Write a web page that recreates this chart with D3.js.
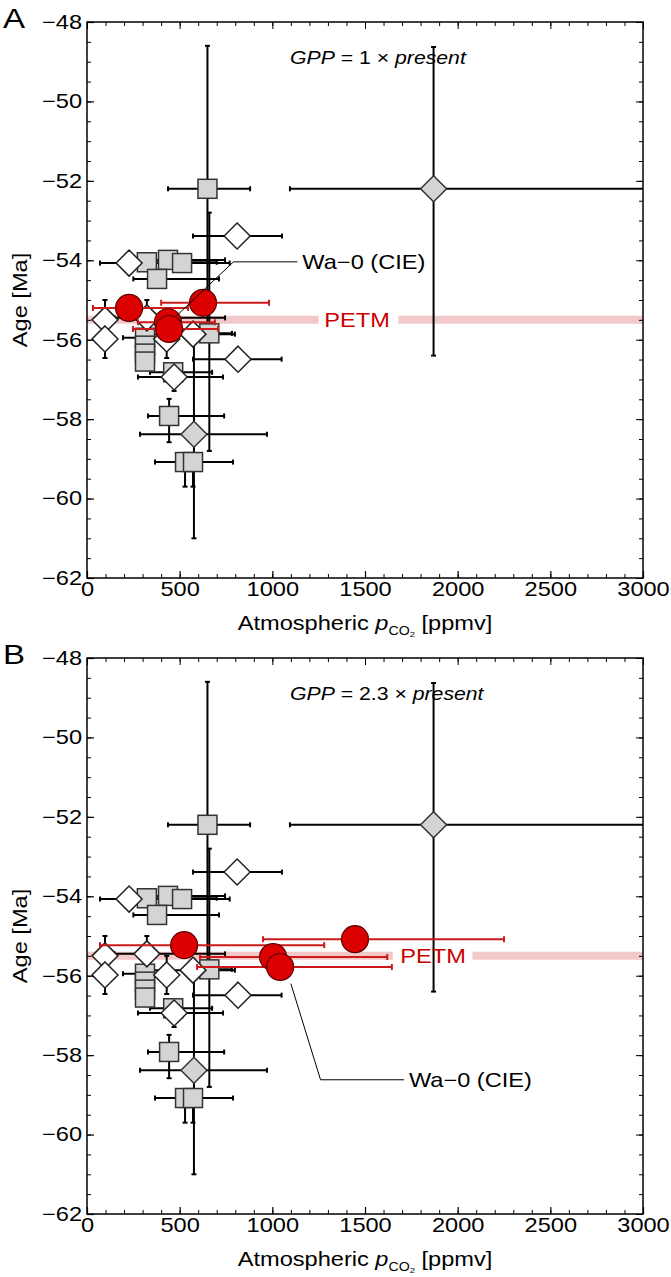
<!DOCTYPE html>
<html><head><meta charset="utf-8">
<script src="https://cdn.jsdelivr.net/npm/d3@7"></script>
<style>body{margin:0;background:#fff} svg{display:block} text{font-family:"Liberation Sans",Arial,Helvetica,sans-serif}</style>
</head><body><svg id="c" width="671" height="1277"></svg>
<script>
const xTickValues = [0, 500, 1000, 1500, 2000, 2500, 3000];
const yTickValues = [-62, -60, -58, -56, -54, -52, -50, -48];
// [pCO2, age, pCO2 low, pCO2 high, age older, age younger]
const graySquares = [
  [650, -52.2, 437, 880, -55.8, -48.6],
  [323, -54.05, 250, 700, null, null],
  [437, -53.99, 300, 745, null, null],
  [513, -54.07, 400, 770, null, null],
  [378, -54.47, 250, 712, null, null],
  [660, -55.84, 540, 782, -58.8, -52.8],
  [313, -55.95, 194, 480, null, null],
  [313, -56.15, null, null, null, null],
  [313, -56.35, null, null, null, null],
  [313, -56.55, null, null, null, null],
  [465, -56.82, 340, 675, null, null],
  [443, -57.92, 329, 740, -58.58, -57.49],
  [529, -59.08, 367, 788, -59.7, null],
  [572, -59.08, null, null, -59.7, null]
];
const whiteDiamonds = [
  [810, -53.39, 572, 1052, null, null],
  [227, -54.07, 70, 420, null, null],
  [97, -55.5, null, null, -56.0, -55.0],
  [323, -55.45, 150, 745, -55.95, -55.0],
  [97, -55.98, null, null, -56.46, -55.5],
  [430, -55.98, null, null, -56.46, -55.5],
  [572, -55.86, 350, 798, null, null],
  [815, -56.49, 572, 1050, null, null],
  [470, -56.94, 275, 734, -57.29, -56.66]
];
const grayDiamonds = [
  [1870, -52.2, 1095, 3200, -56.4, -48.63],
  [577, -58.38, 286, 971, -61.0, -55.8]
];
// [pCO2, age, pCO2 low, pCO2 high]
const redA = [[227, -55.2, 32, 545], [626, -55.07, 400, 982], [437, -55.56, 275, 690], [443, -55.73, 248, 707]];
const redB = [[524, -55.23, 70, 1280], [1446, -55.08, 950, 2250], [1004, -55.53, 610, 1620], [1042, -55.78, 594, 1645]];
const panelLetters = ["A", "B"];
const gppLabels = ["1", "2.3"];
const petmAge = -55.5;
const petmLabelX = [1457, 1867];
const petmGap = [[1250, 1680], [1650, 2080]];
// leader line for Wa-0 label: [pCO2, age] points, text anchored at last point
const leaderA = [[478, -55.42], [790, -54.04], [1135, -54.04]];
const leaderB = [[1100, -56.2], [1260, -58.62], [1710, -58.62]];

const svg = d3.select("#c");
const SX = 1.18;
const x = d3.scaleLinear([0, 3000], [87, 643]);
const y = d3.scaleLinear([-62, -48], [578, 22]);

function stext(g, px, py, str, size, anchor, color) {
  return g.append("text").attr("transform", `translate(${px},${py}) scale(${SX},1)`)
    .attr("font-size", size).attr("text-anchor", anchor || "start").attr("fill", color || "#000").text(str);
}

function drawPanel(i, red, leader) {
  const g = svg.append("g").attr("transform", `translate(0,${i * 636})`);
  const clipId = "clip" + i;
  g.append("clipPath").attr("id", clipId).append("rect")
    .attr("x", x(0)).attr("y", y(-48)).attr("width", x(3000) - x(0)).attr("height", y(-62) - y(-48));
  const plot = g.append("g").attr("clip-path", `url(#${clipId})`);

  const band = [[0, petmGap[i][0]], [petmGap[i][1], 3000]];
  plot.selectAll(".band").data(band).join("line")
    .attr("x1", d => x(d[0])).attr("x2", d => x(d[1]))
    .attr("y1", y(petmAge)).attr("y2", y(petmAge))
    .attr("stroke", "#f3c8c8").attr("stroke-width", 8);

  const allBlack = graySquares.concat(whiteDiamonds, grayDiamonds);
  const cap = 2.5;
  allBlack.filter(d => d[2] != null).forEach(d => {
    const yy = y(d[1]);
    plot.append("line").attr("x1", x(d[2])).attr("x2", x(d[3])).attr("y1", yy).attr("y2", yy)
      .attr("stroke", "#000").attr("stroke-width", 2);
    [d[2], d[3]].forEach(v => plot.append("line").attr("x1", x(v)).attr("x2", x(v))
      .attr("y1", yy - cap).attr("y2", yy + cap).attr("stroke", "#000").attr("stroke-width", 2));
  });
  allBlack.filter(d => d[4] != null || d[5] != null).forEach(d => {
    const xx = x(d[0]);
    const lo = d[4] != null ? d[4] : d[1], hi = d[5] != null ? d[5] : d[1];
    plot.append("line").attr("x1", xx).attr("x2", xx).attr("y1", y(lo)).attr("y2", y(hi))
      .attr("stroke", "#000").attr("stroke-width", 2);
    [d[4], d[5]].filter(v => v != null).forEach(v => plot.append("line")
      .attr("x1", xx - cap).attr("x2", xx + cap).attr("y1", y(v)).attr("y2", y(v))
      .attr("stroke", "#000").attr("stroke-width", 2));
  });
  const sq = 9.5, dm = 13;
  plot.selectAll(".sq").data(graySquares).join("rect")
    .attr("x", d => x(d[0]) - sq).attr("y", d => y(d[1]) - sq).attr("width", 2 * sq).attr("height", 2 * sq)
    .attr("fill", "#d4d4d4").attr("stroke", "#333").attr("stroke-width", 1.5);
  const diamondPath = d => { const cx = x(d[0]), cy = y(d[1]); return `M${cx},${cy - dm}L${cx + dm},${cy}L${cx},${cy + dm}L${cx - dm},${cy}Z`; };
  plot.selectAll(".wd").data(whiteDiamonds).join("path").attr("d", diamondPath)
    .attr("fill", "#fff").attr("stroke", "#222").attr("stroke-width", 1.5);
  plot.selectAll(".gd").data(grayDiamonds).join("path").attr("d", diamondPath)
    .attr("fill", "#d4d4d4").attr("stroke", "#333").attr("stroke-width", 1.5);

  red.forEach(d => {
    const yy = y(d[1]);
    plot.append("line").attr("x1", x(d[2])).attr("x2", x(d[3])).attr("y1", yy).attr("y2", yy)
      .attr("stroke", "#cc1a1a").attr("stroke-width", 2);
    [d[2], d[3]].forEach(v => plot.append("line").attr("x1", x(v)).attr("x2", x(v))
      .attr("y1", yy - 3).attr("y2", yy + 3).attr("stroke", "#cc1a1a").attr("stroke-width", 2));
  });
  plot.selectAll(".rc").data(red).join("circle")
    .attr("cx", d => x(d[0])).attr("cy", d => y(d[1])).attr("r", 13.5)
    .attr("fill", "#dd0000").attr("stroke", "#5a0000").attr("stroke-width", 1.2);

  g.append("path").attr("d", d3.line().x(d => x(d[0])).y(d => y(d[1]))(leader))
    .attr("fill", "none").attr("stroke", "#000").attr("stroke-width", 1);
  const last = leader[leader.length - 1];
  stext(g, x(last[0]) + 5, y(last[1]) + 7, "Wa\u22120 (CIE)", 20, "start");

  stext(g, x(petmLabelX[i]), y(petmAge) + 7, "PETM", 20, "middle", "#cc0000");

  const t = g.append("text").attr("transform", `translate(290,64) scale(${SX},1)`).attr("font-size", 18);
  t.append("tspan").attr("font-style", "italic").text("GPP");
  t.append("tspan").text(" = " + gppLabels[i] + " \u00d7 ");
  t.append("tspan").attr("font-style", "italic").text("present");

  g.append("rect").attr("x", x(0)).attr("y", y(-48)).attr("width", x(3000) - x(0)).attr("height", y(-62) - y(-48))
    .attr("fill", "none").attr("stroke", "#000").attr("stroke-width", 1.5);

  const xMinor = d3.range(0, 3001, 100), yMinor = d3.range(-62, -47.9, 0.5);
  const strip = s => s.select(".domain").remove();
  g.append("g").attr("transform", `translate(0,${y(-62)})`).call(d3.axisBottom(x).tickValues(xMinor).tickSize(-4).tickFormat("")).call(strip);
  g.append("g").attr("transform", `translate(0,${y(-48)})`).call(d3.axisTop(x).tickValues(xMinor).tickSize(-4).tickFormat("")).call(strip);
  g.append("g").attr("transform", `translate(0,${y(-48)})`).call(d3.axisTop(x).tickValues(xTickValues).tickSize(-7).tickFormat("")).call(strip);
  g.append("g").attr("transform", `translate(${x(0)},0)`).call(d3.axisLeft(y).tickValues(yMinor).tickSize(-4).tickFormat("")).call(strip);
  g.append("g").attr("transform", `translate(${x(3000)},0)`).call(d3.axisRight(y).tickValues(yMinor).tickSize(-4).tickFormat("")).call(strip);
  g.append("g").attr("transform", `translate(${x(3000)},0)`).call(d3.axisRight(y).tickValues(yTickValues).tickSize(-7).tickFormat("")).call(strip);
  const xa = g.append("g").attr("transform", `translate(0,${y(-62)})`)
    .call(d3.axisBottom(x).tickValues(xTickValues).tickSize(-7).tickPadding(16).tickFormat(d3.format("d"))).call(strip);
  const ya = g.append("g").attr("transform", `translate(${x(0)},0)`)
    .call(d3.axisLeft(y).tickValues(yTickValues).tickSize(-7).tickPadding(8).tickFormat(d3.format("d"))).call(strip);
  [xa, ya].forEach(a => {
    a.selectAll("line").attr("stroke", "#000").attr("stroke-width", 1.2);
    a.selectAll("text").attr("font-size", 20).attr("font-family", "Liberation Sans, Arial, sans-serif")
      .attr("fill", "#000").attr("transform", `scale(${SX},1)`);
  });
  xa.selectAll("text").attr("y", 4).attr("dy", "0.71em");
  ya.selectAll("text").attr("x", -5 / SX);
  g.selectAll(".tick line").attr("stroke", "#000");

  const xt = g.append("text").attr("transform", `translate(365,630) scale(${SX},1)`).attr("font-size", 20).attr("text-anchor", "middle");
  xt.append("tspan").text("Atmospheric ");
  xt.append("tspan").attr("font-style", "italic").text("p");
  xt.append("tspan").attr("font-size", 12).attr("dy", 5).text("CO");
  xt.append("tspan").attr("font-size", 8).attr("dy", 2).text("2");
  xt.append("tspan").attr("dy", -7).text(" [ppmv]");
  g.append("text").attr("transform", `translate(27,${(y(-48) + y(-62)) / 2}) rotate(-90) scale(${SX},1)`)
    .attr("font-size", 20).attr("text-anchor", "middle").text("Age [Ma]");

  stext(g, 3, 28, panelLetters[i], 28, "start");
}

drawPanel(0, redA, leaderA);
drawPanel(1, redB, leaderB);
</script></body></html>
